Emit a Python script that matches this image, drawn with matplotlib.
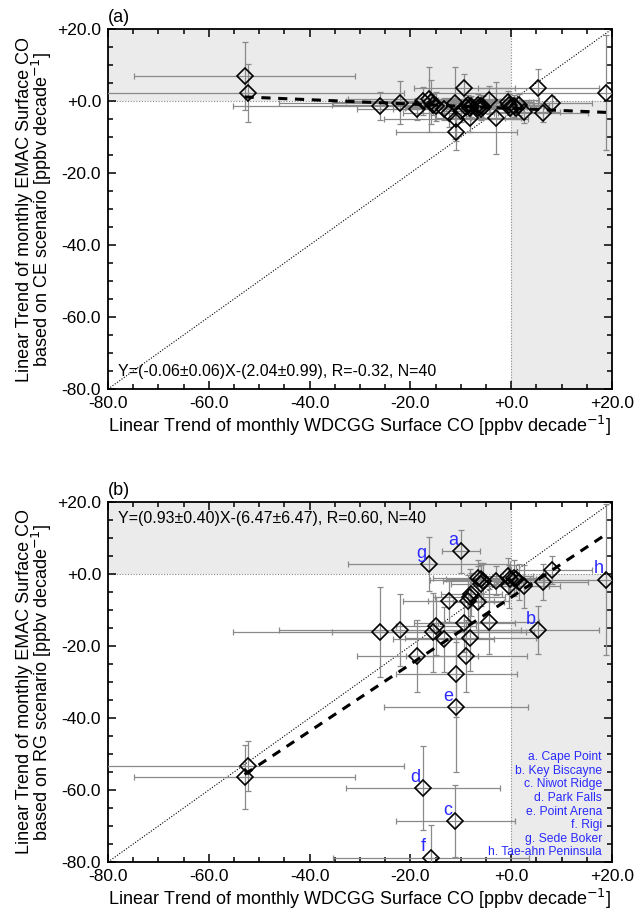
import matplotlib
matplotlib.use("Agg")
import matplotlib.pyplot as plt
from matplotlib.ticker import MultipleLocator, FuncFormatter

plt.rcParams['font.family'] = ['Liberation Sans', 'DejaVu Sans']

# Observed (WDCGG) trends, shared by both panels
obs_x = [-52.9, -52.3, -26.1, -22.1, -18.6, -17.5, -16.3, -15.9, -15.5, -14.9,
         -13.4, -12.4, -11.1, -10.9, -10.9, -10.0, -9.3, -8.9, -8.5, -8.2,
         -8.1, -7.9, -6.6, -6.5, -6.0, -6.0, -5.6, -4.5, -3.0, -0.7,
         -0.5, -0.2, 0.5, 1.0, 1.6, 2.6, 5.4, 6.3, 8.0, 18.8]
obs_xerr = [22, 31, 29, 24, 12, 15.3, 16, 19.5, 20, 8,
            10, 9, 11.8, 14.3, 12, 3.8, 10, 12, 8, 7,
            13, 6, 9, 5, 7, 6, 8, 10, 5, 5,
            8, 4, 6, 4, 5, 7, 12, 9, 8, 35]

# Panel (a): CE scenario
ce_y = [7.0, 2.3, -1.4, -0.5, -2.3, 0.0, 0.5, -0.3, -1.0, -1.5,
        -2.3, -3.2, -0.5, -5.1, -8.6, -2.9, 3.5, -1.8, -1.2, -4.6,
        -2.0, -1.5, -1.9, -1.0, -2.2, -1.4, -1.6, 0.3, -4.6, -0.2,
        -1.0, -1.9, -1.4, -1.9, -1.0, -3.1, 3.5, -3.2, -0.5, 2.3]
ce_yerr = [9.5, 8, 4, 6, 3, 4, 9, 6, 3, 4,
           3, 4, 10, 6, 5, 3, 4, 3, 3, 4,
           3, 3, 3, 3, 3, 3, 3, 4, 10, 3,
           3, 3, 3, 3, 3, 3, 5.5, 2.5, 2, 16]

# Panel (b): RG scenario
rg_y = [-56.4, -53.4, -16.0, -15.6, -22.7, -59.4, 2.7, -78.8, -16.2, -14.4,
        -18.1, -7.4, -68.7, -36.9, -27.7, 6.3, -13.6, -22.9, -7.4, -6.5,
        -17.9, -5.6, -1.0, -7.8, -1.4, -2.9, -2.0, -13.3, -1.9, -0.6,
        -3.4, -1.5, -1.1, -1.4, -2.2, -3.4, -15.5, -2.2, 1.1, -1.6]
rg_yerr = [9, 7, 12.5, 10, 10, 11.7, 7.5, 9, 11, 8,
           9, 6, 10, 18, 12, 6, 8, 10, 7, 8,
           9, 6, 5, 10, 4, 6, 5, 9, 4, 5,
           6, 4, 5, 4, 5, 6, 6.6, 5, 4, 21]

# Regression results
ce_fit = (-0.06, -2.04)
rg_fit = (0.93, -6.47)
ce_text = "Y=(-0.06\u00b10.06)X-(2.04\u00b10.99), R=-0.32, N=40"
rg_text = "Y=(0.93\u00b10.40)X-(6.47\u00b16.47), R=0.60, N=40"

# Labelled stations in panel (b)
station_idx = [15, 36, 12, 5, 13, 7, 6, 39]
station_letters = ['a', 'b', 'c', 'd', 'e', 'f', 'g', 'h']
station_names = ["a. Cape Point", "b. Key Biscayne", "c. Niwot Ridge", "d. Park Falls",
                 "e. Point Arena", "f. Rigi", "g. Sede Boker", "h. Tae-ahn Peninsula"]

fig = plt.figure(figsize=(6.39, 9.11), dpi=100)
W, H = 639, 911
ax_a = fig.add_axes([108 / W, 1 - 389 / H, 504 / W, 360 / H])
ax_b = fig.add_axes([108 / W, 1 - 862 / H, 504 / W, 360 / H])

fmt = FuncFormatter(lambda v, p: f"{v:+.1f}")
shade = '#ebebeb'


def draw(ax, yvals, yerrs, fit, eqtext, eqy, scen, tag):
    ax.set_xlim(-80, 20)
    ax.set_ylim(-80, 20)
    ax.fill_between([-80, 0], 0, 20, color=shade, lw=0, zorder=0)
    ax.fill_between([0, 20], -80, 0, color=shade, lw=0, zorder=0)
    ax.axvline(0, color='#888888', lw=0.8, ls=(0, (1, 1.5)), zorder=1)
    ax.axhline(0, color='#888888', lw=0.8, ls=(0, (1, 1.5)), zorder=1)
    ax.plot([-80, 20], [-80, 20], color='black', lw=0.8, ls=(0, (1, 1.5)), zorder=2)
    ax.errorbar(obs_x, yvals, xerr=obs_xerr, yerr=yerrs, fmt='none',
                ecolor='#8a8a8a', elinewidth=0.9, capsize=2.5, capthick=0.9, zorder=3)
    xs = [min(obs_x), max(obs_x)]
    ax.plot(xs, [fit[0] * v + fit[1] for v in xs], color='black', lw=2.2,
            ls=(0, (3, 2.5)), zorder=4)
    ax.plot(obs_x, yvals, ls='none', marker='D', ms=8, mfc='none', mec='black',
            mew=1.2, zorder=5)
    ax.text(-78, eqy, eqtext, fontsize=11.5, va='center', ha='left', zorder=6)
    ax.xaxis.set_major_locator(MultipleLocator(20))
    ax.yaxis.set_major_locator(MultipleLocator(20))
    ax.xaxis.set_minor_locator(MultipleLocator(5))
    ax.yaxis.set_minor_locator(MultipleLocator(5))
    ax.xaxis.set_major_formatter(fmt)
    ax.yaxis.set_major_formatter(fmt)
    ax.tick_params(which='both', direction='in', top=True, right=True, width=1.1,
                   labelsize=12.5, pad=5)
    ax.tick_params(which='major', length=6)
    ax.tick_params(which='minor', length=3.6)
    for s in ax.spines.values():
        s.set_linewidth(1.3)
    ax.set_xlabel("Linear Trend of monthly WDCGG Surface CO [ppbv decade$^{-1}$]",
                  fontsize=13, labelpad=2)
    ax.set_ylabel("Linear Trend of monthly EMAC Surface CO\nbased on " + scen +
                  " scenario [ppbv decade$^{-1}$]", fontsize=13, labelpad=2,
                  linespacing=0.85)
    ax.text(0.0, 1.008, tag, transform=ax.transAxes, fontsize=13, ha='left',
            va='bottom')


draw(ax_a, ce_y, ce_yerr, ce_fit, ce_text, -75.2, "CE", "(a)")
draw(ax_b, rg_y, rg_yerr, rg_fit, rg_text, 15.3, "RG", "(b)")

blue = '#2a2aff'
for i, letter in zip(station_idx, station_letters):
    ax_b.text(obs_x[i] - 1.5, rg_y[i] + 3.0, letter, color=blue, fontsize=13,
              ha='center', va='center', zorder=6)
for k, name in enumerate(station_names):
    ax_b.text(18.0, -50.9 - k * 3.77, name, color=blue, fontsize=8.7,
              ha='right', va='center', zorder=6)

fig.savefig("out.png", dpi=100)
